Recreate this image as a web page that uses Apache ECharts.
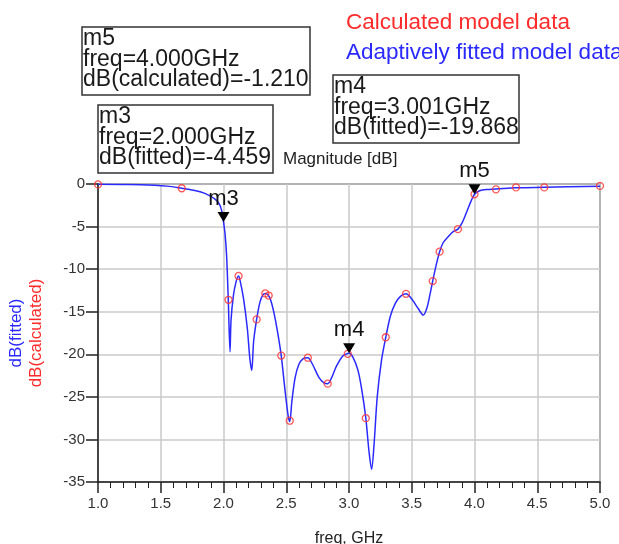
<!DOCTYPE html>
<html>
<head>
<meta charset="utf-8">
<script src="https://cdn.jsdelivr.net/npm/echarts@6/dist/echarts.min.js"></script>
<style>
  html, body { margin: 0; padding: 0; background: #fff; }
  #chart { width: 619px; height: 544px; }
</style>
</head>
<body>
<div id="chart"></div>
<script>
// fitted model (blue line)
const fittedFreq = [1.00, 1.25, 1.45, 1.55, 1.667, 1.75, 1.82, 1.88, 1.93, 1.965, 1.985, 2.000, 2.012, 2.025, 2.038, 2.052,
  2.06, 2.08, 2.10, 2.118, 2.13, 2.16, 2.19, 2.21, 2.225, 2.24, 2.264, 2.29, 2.315, 2.335, 2.355, 2.375, 2.40, 2.43, 2.46,
  2.49, 2.515, 2.528, 2.545, 2.57, 2.60, 2.635, 2.672, 2.71, 2.76, 2.80, 2.83, 2.86, 2.90, 2.95, 2.99, 3.001, 3.03, 3.07,
  3.10, 3.134, 3.16, 3.18, 3.20, 3.225, 3.26, 3.293, 3.33, 3.37, 3.41, 3.454, 3.50, 3.55, 3.592, 3.62, 3.645, 3.667, 3.695,
  3.722, 3.75, 3.79, 3.83, 3.868, 3.90, 3.94, 3.97, 4.00, 4.04, 4.097, 4.171, 4.331, 4.556, 5.00];
const fittedDb = [-0.02, -0.05, -0.15, -0.25, -0.5, -0.7, -0.95, -1.3, -1.75, -2.3, -3.1, -4.46, -5.8, -8.5, -13.6, -19.7,
  -16, -13, -11.5, -10.8, -11.2, -13.5, -17, -20.5, -21.9, -18.5, -15.9, -13.9, -13.0, -12.85, -13.0, -13.6, -15, -17.3, -20.15,
  -24.2, -27.2, -27.9, -25.5, -22.8, -21.2, -20.5, -20.4, -21.2, -22.7, -23.35, -23.45, -22.8, -21.4, -20.2, -19.9, -19.87, -20.3, -21.8,
  -24, -27.5, -31.5, -33.5, -30.5, -25, -20.6, -18.0, -15.5, -14, -13.2, -12.9, -13.5, -14.6, -15.4, -14.6, -13, -11.4, -9.5,
  -7.95, -6.9, -6.2, -5.6, -5.3, -4.6, -3.2, -2.1, -1.21, -0.8, -0.65, -0.6, -0.45, -0.38, -0.25];

// calculated model (red circles)
const calcFreq = [1.000, 1.667, 2.040, 2.120, 2.264, 2.333, 2.360, 2.460, 2.528, 2.672, 2.830, 2.990, 3.134, 3.293,
  3.454, 3.667, 3.722, 3.868, 4.000, 4.171, 4.331, 4.556, 5.000];
const calcDb = [-0.05, -0.5, -13.6, -10.8, -15.9, -12.85, -13.1, -20.15, -27.8, -20.4, -23.45, -19.95, -27.5, -18.0,
  -12.9, -11.4, -7.95, -5.3, -1.21, -0.63, -0.4, -0.4, -0.22];

// markers
const markerNames = ["m3", "m4", "m5"];
const markerFreq = [2.000, 3.001, 4.000];
const markerDb = [-4.459, -19.868, -1.210];
const markerTrace = ["fitted", "fitted", "calculated"];

const chart = echarts.init(document.getElementById("chart"));

const fitted = fittedFreq.map((f, i) => [f, fittedDb[i]]);
const calculated = calcFreq.map((f, i) => [f, calcDb[i]]);

const FONT = "Liberation Sans, Arial, sans-serif";

// readout boxes: [left, top, width, height] for m3, m4, m5
const boxLayout = [[98, 105, 175, 68], [333, 75, 186, 68], [82, 27, 228, 68]];

const graphics = [];
markerNames.forEach((name, i) => {
  const [bx, by, bw, bh] = boxLayout[i];
  const lines = [
    name,
    "freq=" + markerFreq[i].toFixed(3) + "GHz",
    "dB(" + markerTrace[i] + ")=" + markerDb[i].toFixed(3),
  ];
  graphics.push({
    type: "rect",
    shape: { x: bx, y: by, width: bw, height: bh },
    style: { fill: "#fff", stroke: "#333", lineWidth: 1.5 },
    z: 10,
  });
  lines.forEach((t, k) => {
    graphics.push({
      type: "text",
      x: bx + 1,
      y: by + 12 + k * 20.5,
      style: { text: t, fill: "#1a1a1a", font: "23px " + FONT, verticalAlign: "middle" },
      z: 11,
    });
  });
});

graphics.push(
  { type: "text", x: 346, y: 23, style: { text: "Calculated model data", fill: "#ff2a2a", font: "22.5px " + FONT, verticalAlign: "middle" } },
  { type: "text", x: 346, y: 53, style: { text: "Adaptively fitted model data", fill: "#2a2aff", font: "22.5px " + FONT, verticalAlign: "middle" } },
  { type: "text", x: 283, y: 159, style: { text: "Magnitude [dB]", fill: "#222", font: "17px " + FONT, verticalAlign: "middle" } },
  { type: "text", x: 16, y: 333, rotation: Math.PI / 2, style: { text: "dB(fitted)", fill: "#2a2aff", font: "17px " + FONT, align: "center", verticalAlign: "middle" } },
  { type: "text", x: 36, y: 333, rotation: Math.PI / 2, style: { text: "dB(calculated)", fill: "#ff2a2a", font: "17px " + FONT, align: "center", verticalAlign: "middle" } }
);

const option = {
  backgroundColor: "#fff",
  animation: false,
  grid: {
    left: 98,
    right: 19,
    top: 184,
    bottom: 62,
    outerBoundsMode: "none",
    show: true,
    borderColor: "#444",
    borderWidth: 1.5,
  },
  xAxis: {
    type: "value",
    min: 1,
    max: 5,
    interval: 0.5,
    name: "freq, GHz",
    nameLocation: "middle",
    nameGap: 49,
    nameTextStyle: { fontSize: 16, color: "#222", fontFamily: FONT },
    axisLine: { onZero: false, lineStyle: { color: "#222", width: 1.5 } },
    axisTick: { show: true, length: 11, lineStyle: { color: "#222", width: 1.5 } },
    minorTick: { show: true, splitNumber: 5, length: 6, lineStyle: { color: "#222", width: 1 } },
    axisLabel: { color: "#333", fontSize: 15, margin: 14, fontFamily: FONT, formatter: (v) => v.toFixed(1) },
    splitLine: { show: true, lineStyle: { color: "#cacaca", width: 1.5 } },
  },
  yAxis: {
    type: "value",
    min: -35,
    max: 0,
    interval: 5,
    axisLine: { show: true, onZero: false, lineStyle: { color: "#222", width: 1.5 } },
    axisTick: { show: true, length: 12, lineStyle: { color: "#222", width: 1.5 } },
    axisLabel: { color: "#333", fontSize: 15, margin: 13, fontFamily: FONT },
    splitLine: { show: true, lineStyle: { color: "#cacaca", width: 1.5 } },
  },
  series: [
    {
      name: "fitted",
      type: "line",
      data: fitted,
      smooth: 0.3,
      showSymbol: false,
      lineStyle: { color: "#2a2aff", width: 1.5 },
      z: 3,
      markPoint: {
        symbol: "path://M0,0 L12,0 L6,10 Z",
        symbolSize: [12, 10],
        symbolOffset: [0, -5],
        itemStyle: { color: "#000" },
        label: {
          show: true,
          position: "top",
          distance: 2,
          formatter: "{b}",
          color: "#111",
          fontSize: 22,
          fontFamily: FONT,
        },
        data: markerNames.map((n, i) => ({ name: n, coord: [markerFreq[i], markerDb[i]] })),
      },
    },
    {
      name: "calculated",
      type: "scatter",
      data: calculated,
      symbol: "circle",
      symbolSize: 7,
      itemStyle: { color: "transparent", borderColor: "#ff3030", borderWidth: 1.3 },
      z: 4,
    },
  ],
  graphic: graphics,
};

chart.setOption(option);
window.addEventListener("resize", () => chart.resize());
</script>
</body>
</html>
